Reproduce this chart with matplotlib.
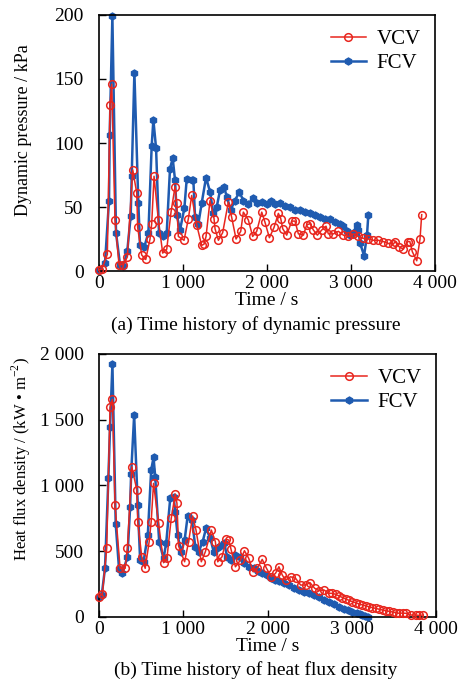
"""
动压与热流密度时间历程 (VCV / FCV)
"""

import matplotlib
matplotlib.use('Agg')
import matplotlib.pyplot as plt
from matplotlib.ticker import FuncFormatter

# ---- (a) 动压 ----
vcv_p_t = [0, 32, 99, 131, 151, 190, 238, 290, 337, 401,
           449, 460, 508, 556, 607, 627, 655, 706, 758, 806,
           857, 905, 925, 944, 1012, 1064, 1103, 1163, 1222, 1250,
           1274, 1321, 1369, 1381, 1421, 1472, 1540, 1579, 1631, 1687,
           1718, 1777, 1829, 1877, 1937, 1976, 2028, 2083, 2135, 2163,
           2187, 2234, 2294, 2333, 2373, 2433, 2472, 2512, 2552, 2599,
           2651, 2702, 2730, 2790, 2849, 2909, 2968, 3028, 3087, 3147,
           3206, 3266, 3325, 3385, 3444, 3504, 3524, 3571, 3623, 3675,
           3700, 3730, 3782, 3821, 3841]
vcv_p = [1, 1.3, 13, 130, 146, 40, 5, 5, 11, 79,
         61, 34, 12.5, 9, 25, 37, 74, 40, 14, 17,
         46, 66, 53, 27, 24, 41, 59, 36, 20, 21,
         27, 55, 41, 33, 24, 30, 54, 42, 25, 31,
         46, 40, 27, 31, 46, 38, 26, 34, 45, 41,
         33, 28, 39, 39, 29, 28, 36, 37, 32, 28,
         32, 35, 29, 29, 31, 28, 27, 29, 27, 25.5,
         25, 24, 24, 23, 21.5, 21, 23, 19, 17, 23,
         23, 15, 8, 25, 44]

fcv_p_t = [0, 71, 119, 127, 159, 202, 250, 290, 337, 377,
           389, 421, 468, 488, 540, 588, 627, 647, 679, 714,
           766, 806, 845, 877, 905, 925, 964, 1016, 1044, 1103,
           1123, 1143, 1183, 1222, 1274, 1321, 1361, 1401, 1440, 1488,
           1520, 1567, 1619, 1670, 1718, 1777, 1829, 1877, 1937, 1996,
           2044, 2095, 2155, 2214, 2274, 2333, 2393, 2452, 2512, 2571,
           2631, 2690, 2750, 2810, 2869, 2909, 2948, 2988, 3028, 3067,
           3087, 3107, 3155, 3190, 3206]
fcv_p = [1, 6, 55, 106, 199, 30, 5, 4, 16, 43,
         74, 155, 53, 20, 19, 30, 98, 118, 96, 30,
         27, 30, 80, 88, 71, 44, 32, 49, 72, 71,
         71, 42, 37, 53, 73, 62, 45, 50, 63, 66,
         58, 48, 55, 62, 55, 52, 57, 53, 54, 52,
         55, 52, 53, 51, 50, 48, 48, 46, 45, 44,
         42, 41, 41, 38, 37, 35, 31, 28, 30, 36,
         32, 22, 12, 28, 44]

# ---- (b) 热流密度 ----
vcv_q_t = [0, 40, 91, 131, 159, 190, 250, 310, 337, 389,
           449, 460, 508, 548, 595, 619, 647, 706, 766, 806,
           857, 905, 925, 944, 1016, 1063, 1111, 1151, 1214, 1262,
           1333, 1381, 1409, 1460, 1512, 1540, 1567, 1619, 1679, 1726,
           1777, 1829, 1880, 1937, 1988, 2044, 2095, 2135, 2175, 2214,
           2274, 2333, 2393, 2452, 2504, 2560, 2611, 2671, 2730, 2770,
           2810, 2849, 2890, 2929, 2970, 3008, 3048, 3087, 3127, 3167,
           3206, 3246, 3286, 3325, 3365, 3405, 3444, 3484, 3524, 3563,
           3603, 3643, 3702, 3762, 3800, 3841]
vcv_q = [154, 175, 522, 1594, 1655, 851, 370, 370, 522, 1142,
         965, 720, 454, 370, 572, 724, 1016, 717, 413, 446,
         750, 935, 864, 540, 420, 572, 768, 661, 420, 496,
         661, 572, 420, 458, 590, 585, 514, 382, 433, 504,
         446, 344, 370, 438, 370, 306, 332, 382, 319, 281,
         306, 294, 243, 243, 261, 218, 200, 205, 180, 180,
         172, 160, 148, 137, 126, 116, 108, 99, 92, 84,
         78, 71, 65, 59, 53, 48, 43, 38, 33, 28,
         30, 28, 15, 15, 12, 15]

fcv_q_t = [0, 32, 71, 111, 131, 159, 198, 238, 278, 337,
           369, 381, 417, 460, 488, 528, 579, 619, 647, 667,
           714, 766, 798, 845, 885, 905, 932, 976, 1016, 1052,
           1103, 1143, 1183, 1230, 1270, 1321, 1361, 1401, 1440, 1488,
           1520, 1567, 1619, 1670, 1718, 1777, 1837, 1890, 1940, 1990,
           2040, 2090, 2140, 2194, 2250, 2310, 2373, 2430, 2490, 2552,
           2610, 2670, 2730, 2790, 2849, 2910, 2960, 3008, 3060, 3100,
           3127, 3160, 3187]
fcv_q = [154, 167, 370, 1054, 1447, 1923, 707, 362, 337, 454,
         834, 1087, 1535, 851, 433, 420, 623, 1117, 1214, 1066,
         572, 446, 565, 902, 914, 800, 623, 496, 585, 768,
         737, 534, 496, 572, 674, 598, 496, 522, 540, 560,
         458, 433, 471, 458, 408, 382, 370, 350, 335, 318,
         300, 285, 272, 256, 240, 222, 205, 192, 180, 167,
         150, 133, 116, 97, 78, 64, 52, 40, 28, 20,
         15, 8, 2]

x_ticks = [0, 1000, 2000, 3000, 4000]
p_ticks = [0, 50, 100, 150, 200]
q_ticks = [0, 500, 1000, 1500, 2000]

RED = '#e8261e'
BLUE = '#1f5bb0'

plt.rcParams['font.family'] = ['Liberation Serif', 'DejaVu Serif']
plt.rcParams['mathtext.fontset'] = 'custom'
plt.rcParams['mathtext.rm'] = 'Liberation Serif'
plt.rcParams['font.size'] = 14


def thousands(v, pos):
    s = f'{int(v):,}'
    return s.replace(',', ' ')


def style_axes(ax, yticks, ymax):
    ax.set_xlim(0, 4000)
    ax.set_ylim(0, ymax)
    ax.set_xticks(x_ticks)
    ax.set_yticks(yticks)
    ax.xaxis.set_major_formatter(FuncFormatter(thousands))
    ax.yaxis.set_major_formatter(FuncFormatter(thousands))
    ax.tick_params(direction='in', length=5, width=1, top=False, right=False)
    ax.tick_params(axis='y', pad=11)
    ax.tick_params(axis='x', pad=3)
    for sp in ax.spines.values():
        sp.set_linewidth(1.2)


def draw(ax, vt, vy, ft, fy):
    ax.plot(vt, vy, color=RED, lw=1.1, marker='o', ms=5.5, mfc='none',
            mec=RED, mew=1.1, label='VCV', clip_on=False, zorder=3)
    ax.plot(ft, fy, color=BLUE, lw=1.8, marker='h', ms=5, mfc=BLUE,
            mec=BLUE, label='FCV', clip_on=False, zorder=2)
    ax.legend(loc='upper right', frameon=False, handlelength=1.7,
              handletextpad=0.5, labelspacing=0.2, borderaxespad=0.3,
              fontsize=15)


fig = plt.figure(figsize=(4.61, 6.91), dpi=100)

ax1 = fig.add_axes([0.2148, 0.6078, 0.7289, 0.3705])
draw(ax1, vcv_p_t, vcv_p, fcv_p_t, fcv_p)
style_axes(ax1, p_ticks, 200)
ax1.set_ylabel('Dynamic pressure / kPa', fontsize=13)
ax1.yaxis.set_label_coords(-0.20, 0.55)
ax1.set_xlabel('Time / s', labelpad=0)
fig.text(0.555, 0.529, '(a) Time history of dynamic pressure',
         ha='center', va='center')

ax2 = fig.add_axes([0.2148, 0.1071, 0.7310, 0.3806])
draw(ax2, vcv_q_t, vcv_q, fcv_q_t, fcv_q)
style_axes(ax2, q_ticks, 2000)
ax2.set_ylabel(r'Heat flux density / (kW • m$^{-2}$)', fontsize=12)
ax2.yaxis.set_label_coords(-0.196, 0.60)
ax2.set_xlabel('Time / s', labelpad=0)
fig.text(0.555, 0.031, '(b) Time history of heat flux density',
         ha='center', va='center')

fig.savefig('out.png', dpi=100)
